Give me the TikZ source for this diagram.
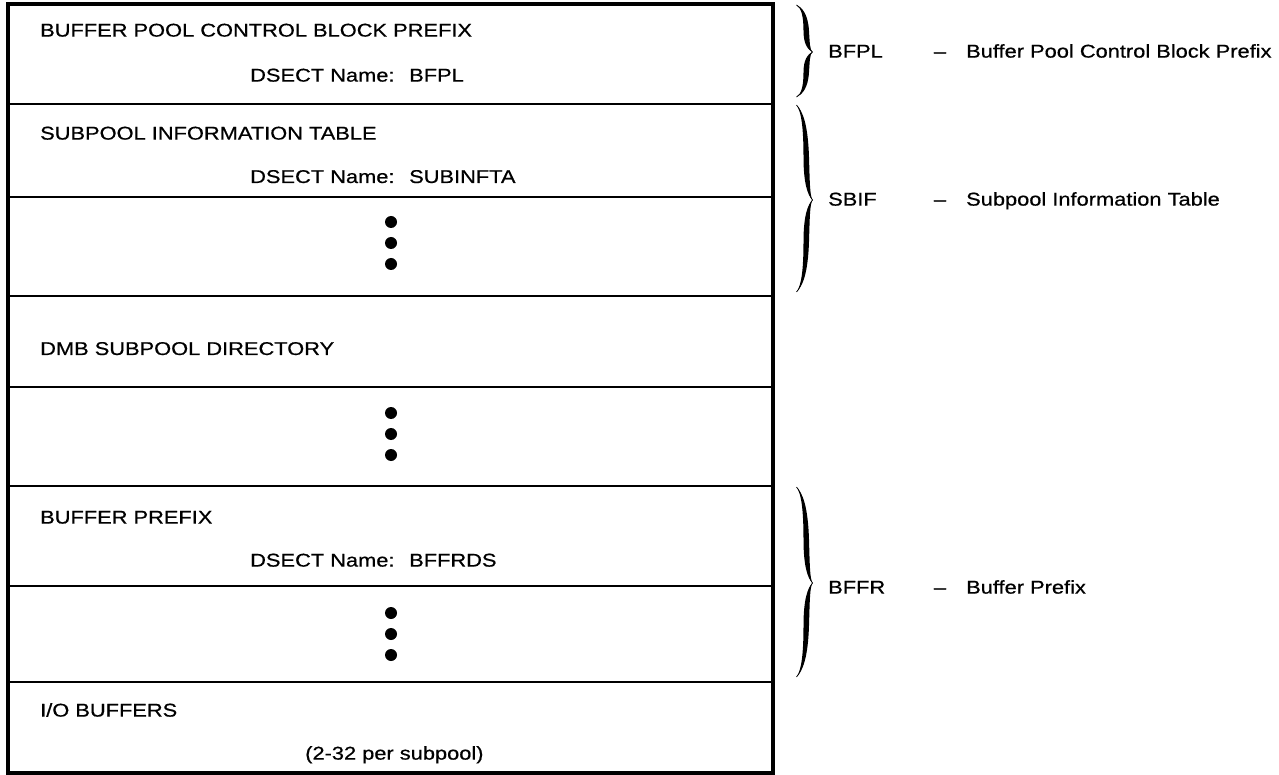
\documentclass[tikz,border=0pt]{standalone}
\usepackage{fontspec}
\setmainfont{Liberation Sans}[FakeStretch=1.18,FakeBold=0.6]
\begin{document}
\begin{tikzpicture}[x=1pt,y=-1pt,
  lbl/.style={anchor=base west, inner sep=0pt, font=\fontsize{18.5}{22}\selectfont},
  dashlbl/.style={anchor=base, inner sep=0pt, font=\fontsize{18.5}{22}\selectfont},
  frame/.style={line width=3.5pt},
  rule/.style={line width=1.8pt},
  bigdot/.style={circle, fill=black, inner sep=0pt, minimum size=12pt}]
\useasboundingbox (0,0) rectangle (1279,775);

% one half of a curly brace: end at y=#1, tip at y=#2
\newcommand\halfbrace[2]{%
  \fill (796.5,#1)
    .. controls (802.5,{#1+0.06*(#2-#1)}) and (808,{#1+0.2*(#2-#1)}) .. (809,{#1+0.55*(#2-#1)})
    .. controls (809.8,{#1+0.82*(#2-#1)}) and (809.8,{#1+0.95*(#2-#1)}) .. (812.5,#2)
    .. controls (807.5,{#1+0.95*(#2-#1)}) and (803.5,{#1+0.82*(#2-#1)}) .. (803.5,{#1+0.55*(#2-#1)})
    .. controls (803.5,{#1+0.25*(#2-#1)}) and (801.5,{#1+0.07*(#2-#1)}) .. (796.5,#1) -- cycle;
  \draw[line width=0.7pt] (796.5,#1)
    .. controls (802,{#1+0.065*(#2-#1)}) and (805.8,{#1+0.22*(#2-#1)}) .. (806.2,{#1+0.55*(#2-#1)})
    .. controls (806.6,{#1+0.85*(#2-#1)}) and (808.6,{#1+0.95*(#2-#1)}) .. (812.5,#2);}
\newcommand\curlybrace[3]{\halfbrace{#1}{#2}\halfbrace{#3}{#2}}

% storage layout frame and section rules
\draw[frame] (8,4) rectangle (773,773);
\foreach \y in {104,197,296,387,486,586,682}
  \draw[rule] (8,\y) -- (773,\y);

% section texts
\node[lbl] (h1) at (40,36.6) {BUFFER POOL CONTROL BLOCK PREFIX};
\node[lbl] (d1) at (250,81.6) {DSECT Name:};
\node[lbl] (v1) at (409,81.6) {BFPL};
\node[lbl] (h2) at (40,139.6) {SUBPOOL INFORMATION TABLE};
\node[lbl] (d2) at (250,183) {DSECT Name:};
\node[lbl] (v2) at (409,183) {SUBINFTA};
\node[lbl] (h3) at (40,355) {DMB SUBPOOL DIRECTORY};
\node[lbl] (h4) at (40,523.6) {BUFFER PREFIX};
\node[lbl] (d4) at (250,566.6) {DSECT Name:};
\node[lbl] (v4) at (409,566.6) {BFFRDS};
\node[lbl] (h5) at (40,716.6) {I/O BUFFERS};
\node[lbl] (n5) at (305,759.6) {(2-32 per subpool)};

% continuation dots
\foreach \y [count=\i] in {222,243,264} \node[bigdot] (sa\i) at (391,\y) {};
\foreach \y [count=\i] in {413,434,455} \node[bigdot] (sb\i) at (391,\y) {};
\foreach \y [count=\i] in {613,634,655} \node[bigdot] (sc\i) at (391,\y) {};

% braces grouping the control blocks
\curlybrace{5}{52}{97}
\curlybrace{105}{200}{292}
\curlybrace{487}{583}{677}

% control block names
\node[lbl] (k1) at (828,57.6) {BFPL};
\node[dashlbl] (m1) at (940,57.6) {–};
\node[lbl] (t1) at (966,57.6) {Buffer Pool Control Block Prefix};
\node[lbl] (k2) at (828,205.6) {SBIF};
\node[dashlbl] (m2) at (940,205.6) {–};
\node[lbl] (t2) at (966,205.6) {Subpool Information Table};
\node[lbl] (k3) at (828,593.6) {BFFR};
\node[dashlbl] (m3) at (940,593.6) {–};
\node[lbl] (t3) at (966,593.6) {Buffer Prefix};
\end{tikzpicture}
\end{document}
